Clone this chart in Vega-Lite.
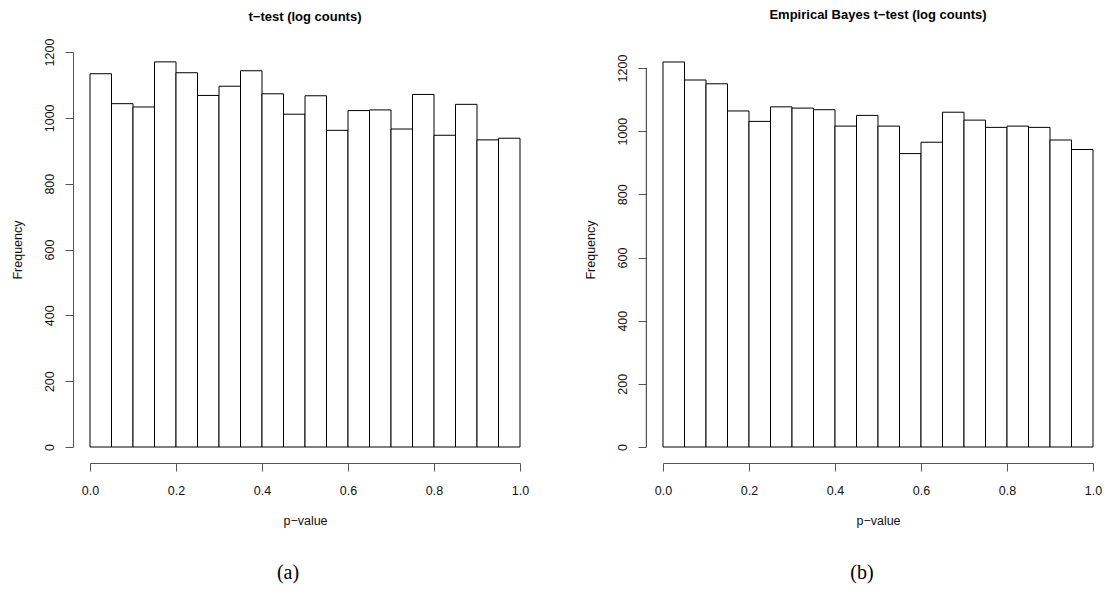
{
  "$schema": "https://vega.github.io/schema/vega-lite/v6.json",
  "background": "white",
  "padding": {"left": 11, "top": 9, "right": 0, "bottom": 5},
  "datasets": {
    "a": [
      {"lo": 0.00, "hi": 0.05, "count": 1134},
      {"lo": 0.05, "hi": 0.10, "count": 1043},
      {"lo": 0.10, "hi": 0.15, "count": 1033},
      {"lo": 0.15, "hi": 0.20, "count": 1170},
      {"lo": 0.20, "hi": 0.25, "count": 1137},
      {"lo": 0.25, "hi": 0.30, "count": 1068},
      {"lo": 0.30, "hi": 0.35, "count": 1096},
      {"lo": 0.35, "hi": 0.40, "count": 1143},
      {"lo": 0.40, "hi": 0.45, "count": 1073},
      {"lo": 0.45, "hi": 0.50, "count": 1011},
      {"lo": 0.50, "hi": 0.55, "count": 1067},
      {"lo": 0.55, "hi": 0.60, "count": 962},
      {"lo": 0.60, "hi": 0.65, "count": 1022},
      {"lo": 0.65, "hi": 0.70, "count": 1024},
      {"lo": 0.70, "hi": 0.75, "count": 966},
      {"lo": 0.75, "hi": 0.80, "count": 1071},
      {"lo": 0.80, "hi": 0.85, "count": 947},
      {"lo": 0.85, "hi": 0.90, "count": 1041},
      {"lo": 0.90, "hi": 0.95, "count": 933},
      {"lo": 0.95, "hi": 1.00, "count": 938}
    ],
    "b": [
      {"lo": 0.00, "hi": 0.05, "count": 1219},
      {"lo": 0.05, "hi": 0.10, "count": 1162},
      {"lo": 0.10, "hi": 0.15, "count": 1150},
      {"lo": 0.15, "hi": 0.20, "count": 1064},
      {"lo": 0.20, "hi": 0.25, "count": 1031},
      {"lo": 0.25, "hi": 0.30, "count": 1077},
      {"lo": 0.30, "hi": 0.35, "count": 1073},
      {"lo": 0.35, "hi": 0.40, "count": 1068},
      {"lo": 0.40, "hi": 0.45, "count": 1016},
      {"lo": 0.45, "hi": 0.50, "count": 1050},
      {"lo": 0.50, "hi": 0.55, "count": 1016},
      {"lo": 0.55, "hi": 0.60, "count": 929},
      {"lo": 0.60, "hi": 0.65, "count": 965},
      {"lo": 0.65, "hi": 0.70, "count": 1060},
      {"lo": 0.70, "hi": 0.75, "count": 1035},
      {"lo": 0.75, "hi": 0.80, "count": 1012},
      {"lo": 0.80, "hi": 0.85, "count": 1016},
      {"lo": 0.85, "hi": 0.90, "count": 1012},
      {"lo": 0.90, "hi": 0.95, "count": 972},
      {"lo": 0.95, "hi": 1.00, "count": 942}
    ]
  },
  "config": {
    "view": {"stroke": null},
    "font": "Liberation Sans",
    "axis": {
      "grid": false,
      "domainColor": "#555",
      "tickColor": "#555",
      "domainWidth": 1,
      "tickWidth": 1,
      "tickSize": 8,
      "labelColor": "#111",
      "titleColor": "#111",
      "labelFont": "Liberation Sans",
      "titleFont": "Liberation Sans",
      "labelFontSize": 12.5,
      "titleFontSize": 12.5,
      "titleFontWeight": "normal",
      "labelFlush": false,
      "labelOverlap": false
    },
    "title": {"font": "Liberation Sans", "fontSize": 13, "fontWeight": "bold", "color": "black", "frame": "group", "anchor": "middle"}
  },
  "spacing": 55,
  "hconcat": [
    {
      "title": {"text": "(a)", "orient": "bottom", "anchor": "start", "align": "center", "frame": "group", "dx": 198, "font": "Liberation Serif", "fontSize": 20, "fontWeight": "normal", "offset": 36},
      "vconcat": [
        {
          "width": 430,
          "height": 395,
          "data": {"name": "a"},
          "title": {"text": "t−test (log counts)", "offset": 14},
          "mark": {"type": "rect", "fill": "white", "stroke": "black", "strokeWidth": 1},
          "encoding": {
            "x": {"field": "lo", "type": "quantitative", "scale": {"domain": [0, 1], "nice": false, "zero": false},
              "axis": {"values": [0, 0.2, 0.4, 0.6, 0.8, 1], "format": ".1f", "offset": 16, "labelPadding": 13, "title": "p−value", "titlePadding": 18}},
            "x2": {"field": "hi"},
            "y": {"field": "count", "type": "quantitative", "scale": {"domain": [0, 1200], "nice": false},
              "axis": {"values": [0, 200, 400, 600, 800, 1000, 1200], "format": "d", "offset": 17, "labelAngle": -90, "labelAlign": "center", "labelBaseline": "bottom", "labelPadding": 9, "title": "Frequency", "titlePadding": 19}},
            "y2": {"datum": 0}
          }
        }
      ]
    },
    {
      "title": {"text": "(b)", "orient": "bottom", "anchor": "start", "align": "center", "frame": "group", "dx": 199, "font": "Liberation Serif", "fontSize": 20, "fontWeight": "normal", "offset": 36},
      "vconcat": [
        {
          "width": 430,
          "height": 395,
          "data": {"name": "b"},
          "title": {"text": "Empirical Bayes t−test (log counts)", "offset": 30},
          "encoding": {
            "x": {"field": "lo", "type": "quantitative", "scale": {"domain": [0, 1], "nice": false, "zero": false},
              "axis": {"values": [0, 0.2, 0.4, 0.6, 0.8, 1], "format": ".1f", "offset": 16, "labelPadding": 13, "title": "p−value", "titlePadding": 18}},
            "y": {"field": "count", "type": "quantitative", "scale": {"domain": [0, 1250.66], "nice": false},
              "axis": {"values": [0, 200, 400, 600, 800, 1000, 1200], "format": "d", "domain": false, "offset": 17, "labelAngle": -90, "labelAlign": "center", "labelBaseline": "bottom", "labelPadding": 9, "title": "Frequency", "titlePadding": 19}}
          },
          "layer": [
            {
              "mark": {"type": "rect", "fill": "white", "stroke": "black", "strokeWidth": 1},
              "encoding": {
                "x2": {"field": "hi"},
                "y2": {"datum": 0}
              }
            },
            {
              "mark": {"type": "rule", "color": "#555", "strokeWidth": 1},
              "encoding": {
                "x": {"datum": -0.0384},
                "y": {"datum": 0},
                "y2": {"datum": 1200}
              }
            }
          ]
        }
      ]
    }
  ]
}
